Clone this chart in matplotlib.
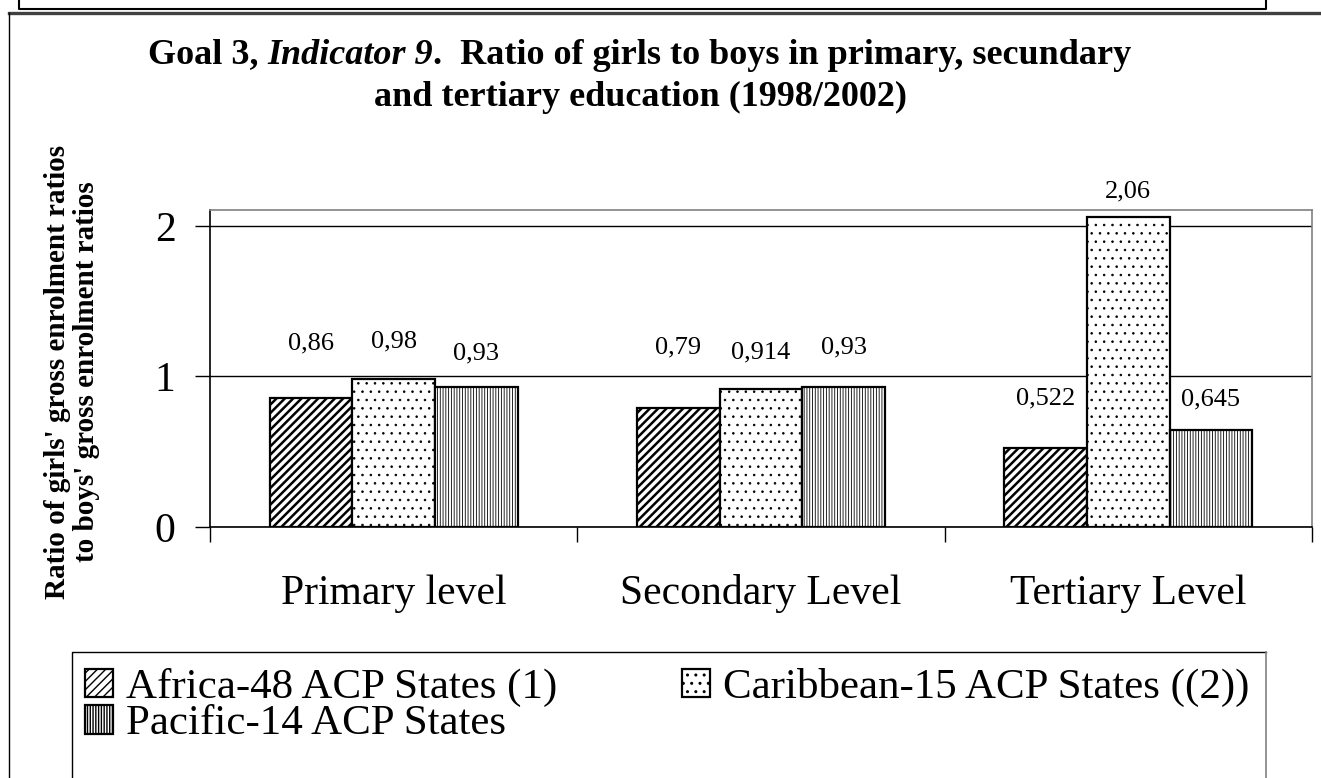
import matplotlib
matplotlib.use('Agg')
import matplotlib.pyplot as plt
import numpy as np
from matplotlib.lines import Line2D

plt.rcParams['font.family'] = ['Liberation Serif', 'DejaVu Serif']

# ====================== DATA ======================
levels = ['Primary level', 'Secondary Level', 'Tertiary Level']
series_names = ['Africa-48 ACP States (1)', 'Caribbean-15 ACP States ((2))', 'Pacific-14 ACP States']

africa = [0.86, 0.79, 0.522]
caribbean = [0.98, 0.914, 2.06]
pacific = [0.93, 0.93, 0.645]

# where the value labels sit (data units), as placed in the original chart
africa_lab_y = [1.22, 1.19, 0.855]
caribbean_lab_y = [1.23, 1.16, 2.23]
pacific_lab_y = [1.155, 1.19, 0.85]

W, H = 1321, 778
fig = plt.figure(figsize=(W / 100, H / 100), dpi=100)

def fx(px):
    return px / W

def fy(py):
    return 1 - py / H

# plot area: x 210..1312, y 210..527 px
ax = fig.add_axes([fx(210), fy(527), fx(1312 - 210), (527 - 210) / H])

x = np.arange(len(levels))
w = 0.225
series = [africa, caribbean, pacific]
lab_ys = [africa_lab_y, caribbean_lab_y, pacific_lab_y]
hatches = ['////', '..', '||||||']
hatch_lw = [1.8, 0.6, 0.6]

bars = []
for i, (vals, h, hl) in enumerate(zip(series, hatches, hatch_lw)):
    with plt.rc_context({'hatch.linewidth': hl}):
        b = ax.bar(x + (i - 1) * w, vals, w, color='white', edgecolor='black',
                   linewidth=1.6, hatch=h, label=series_names[i], zorder=3)
    for p in b:
        if hasattr(p, 'set_hatch_linewidth'):
            p.set_hatch_linewidth(hl)
    bars.append(b)
    for xi, v, ly in zip(x, vals, lab_ys[i]):
        ax.text(xi + (i - 1) * w, ly, f'{v:g}'.replace('.', ','), ha='center', va='center',
                fontsize=19, zorder=4)

ax.set_xlim(-0.5, 2.5)
ax.set_ylim(0, 2.106)
ax.set_yticks([0, 1, 2])
ax.set_yticklabels(['0', '1', '2'])
ax.tick_params(axis='y', length=10.8, width=1, pad=14, labelsize=30, direction='out')
ax.yaxis.grid(True, color='black', linewidth=1)
ax.set_axisbelow(True)

ax.set_xticks(x)
ax.set_xticklabels(levels)
ax.tick_params(axis='x', which='major', length=0, pad=34, labelsize=30)
ax.set_xticks([-0.5, 0.5, 1.5, 2.5], minor=True)
ax.tick_params(axis='x', which='minor', length=10.8, width=1, direction='out')

for s in ['top', 'right']:
    ax.spines[s].set_color('#808080')
    ax.spines[s].set_linewidth(1.2)
for s in ['left', 'bottom']:
    ax.spines[s].set_color('black')
    ax.spines[s].set_linewidth(1.2)

# y label (two lines, bold)
fig.text(fx(72), fy(372), "Ratio of girls' gross enrolment ratios\nto boys' gross enrolment ratios",
         rotation=90, ha='center', va='center', fontsize=21, fontweight='bold', linespacing=1.05)

# title: mixed bold / bold italic on first line
renderer = fig.canvas.get_renderer()
parts = [('Goal 3, ', 'normal'), ('Indicator 9', 'italic'),
         ('.  Ratio of girls to boys in primary, secundary', 'normal')]
tsize = 26
texts = []
for s, st in parts:
    t = fig.text(0, fy(55), s, fontsize=tsize, fontweight='bold', style=st, va='center', ha='left')
    texts.append(t)
widths = [t.get_window_extent(renderer).width for t in texts]
xpos = 640 - sum(widths) / 2
for t, wd in zip(texts, widths):
    t.set_x(fx(xpos))
    xpos += wd
fig.text(fx(640), fy(97), 'and tertiary education (1998/2002)', fontsize=tsize,
         fontweight='bold', ha='center', va='center')

# frames around the chart
fig.add_artist(Line2D([fx(9), 1], [fy(13), fy(13)], color='#404040', linewidth=2.4))
fig.add_artist(Line2D([fx(9), fx(9)], [fy(13), 0], color='black', linewidth=1))
fig.add_artist(Line2D([fx(19), fx(19), fx(1266), fx(1266)], [1, fy(9), fy(9), 1],
                      color='black', linewidth=1.5))

# legend box
fig.add_artist(Line2D([fx(72), fx(72), fx(1266)], [0, fy(652), fy(652)], color='black', linewidth=1))
fig.add_artist(Line2D([fx(1266), fx(1266)], [fy(652), 0], color='#808080', linewidth=1.2))

handles = [bars[0], bars[2], bars[1]]
labels = [series_names[0], series_names[2], series_names[1]]
fig.legend(handles, labels, loc='upper left', bbox_to_anchor=(fx(85), fy(668)), ncol=2,
           frameon=False, fontsize=31, handlelength=0.65, handleheight=0.65,
           handletextpad=0.3, labelspacing=-0.05, columnspacing=2.9,
           borderpad=0, borderaxespad=0)

fig.savefig('out.png', dpi=100)
